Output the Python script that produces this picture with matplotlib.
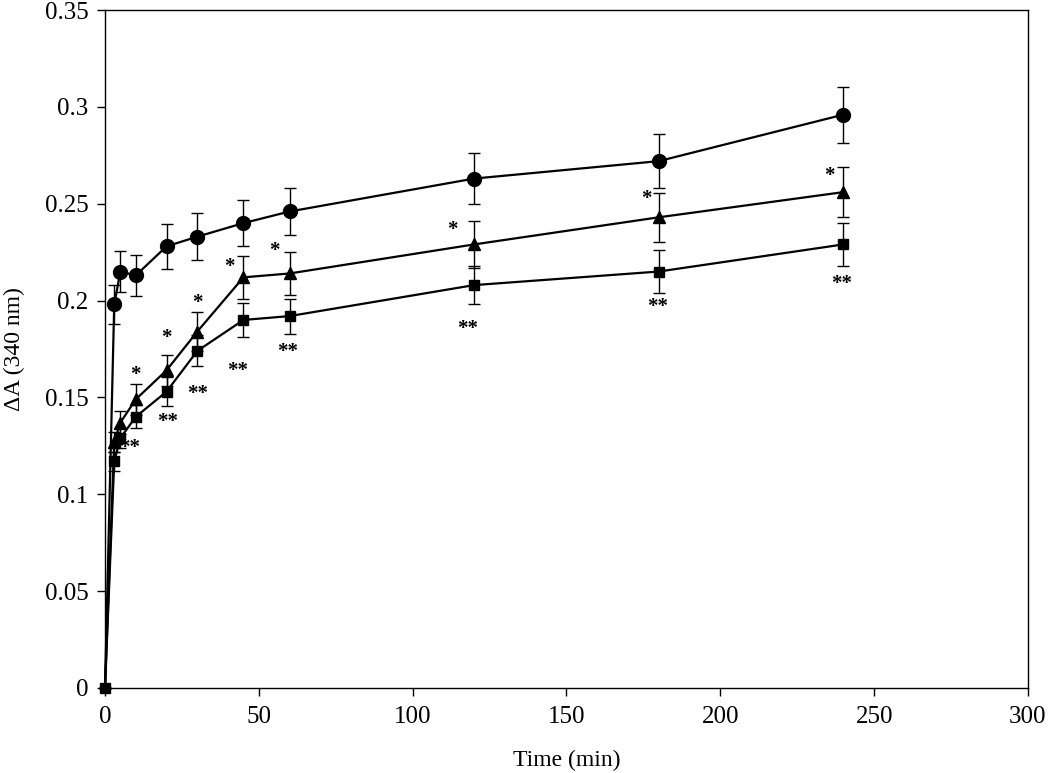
import matplotlib
matplotlib.use('Agg')
import matplotlib.pyplot as plt

plt.rcParams['font.family'] = ['Liberation Serif', 'DejaVu Serif']

# ---------------------------------------------------------------------------
# Data
# ---------------------------------------------------------------------------
time = [0, 3, 5, 10, 20, 30, 45, 60, 120, 180, 240]

circle = [0, 0.198, 0.215, 0.213, 0.228, 0.233, 0.240, 0.246, 0.263, 0.272, 0.296]
circle_err = [0, 0.010, 0.0107, 0.0107, 0.0115, 0.012, 0.012, 0.012, 0.013, 0.014, 0.0145]

triangle = [0, 0.127, 0.137, 0.149, 0.164, 0.184, 0.212, 0.214, 0.229, 0.243, 0.256]
triangle_err = [0, 0.005, 0.006, 0.008, 0.008, 0.010, 0.011, 0.011, 0.012, 0.0125, 0.013]

square = [0, 0.117, 0.129, 0.140, 0.153, 0.174, 0.190, 0.192, 0.208, 0.215, 0.229]
square_err = [0, 0.005, 0.005, 0.006, 0.0075, 0.008, 0.009, 0.009, 0.010, 0.011, 0.011]

# significance marks
star_x = [9.75, 20, 30, 40.3, 55, 113, 176, 235.5]
star_y = [0.163, 0.182, 0.200, 0.219, 0.227, 0.238, 0.254, 0.266]
dstar_x = [8, 20.5, 30, 43, 59.5, 118, 179.5, 239.5]
dstar_y = [0.1255, 0.139, 0.153, 0.165, 0.175, 0.187, 0.198, 0.210]

# ---------------------------------------------------------------------------
# Figure
# ---------------------------------------------------------------------------
fig = plt.figure(figsize=(10.5, 7.73), dpi=100)
ax = fig.add_axes([0.1, 0.110, 0.879, 0.877])

common = dict(color='black', lw=1.6, ecolor='black', elinewidth=1.0,
              capsize=4.5, capthick=1.0, clip_on=False)
skip0 = list(range(1, len(time)))
ax.errorbar(time, circle, yerr=circle_err, marker='o', ms=10,
            markevery=skip0, **common)
ax.errorbar(time, triangle, yerr=triangle_err, marker='^', ms=9,
            markevery=skip0, **common)
ax.errorbar(time, square, yerr=square_err, marker='s', ms=7.5, **common)

for x, y in zip(star_x, star_y):
    ax.annotate('*', (x, y), xytext=(0, -2), textcoords='offset points',
                ha='center', va='center', fontsize=15, fontweight='bold')
for x, y in zip(dstar_x, dstar_y):
    ax.annotate('**', (x, y), xytext=(0, -2), textcoords='offset points',
                ha='center', va='center', fontsize=15, fontweight='bold')

ax.set_xlim(0, 300)
ax.set_ylim(0, 0.35)
ax.set_xticks([0, 50, 100, 150, 200, 250, 300])
ax.set_yticks([0, 0.05, 0.1, 0.15, 0.2, 0.25, 0.3, 0.35])
ax.set_yticklabels(['0', '0.05', '0.1', '0.15', '0.2', '0.25', '0.3', '0.35'])
ax.tick_params(direction='out', length=6, width=1, labelsize=18, pad=6)
ax.tick_params(axis='x', pad=7)
for s in ax.spines.values():
    s.set_linewidth(1.0)

ax.set_xlabel('Time (min)', fontsize=17, labelpad=16)
ax.set_ylabel('ΔA (340 nm)', fontsize=17, labelpad=14)

fig.savefig('out.png', dpi=100, facecolor='white')
